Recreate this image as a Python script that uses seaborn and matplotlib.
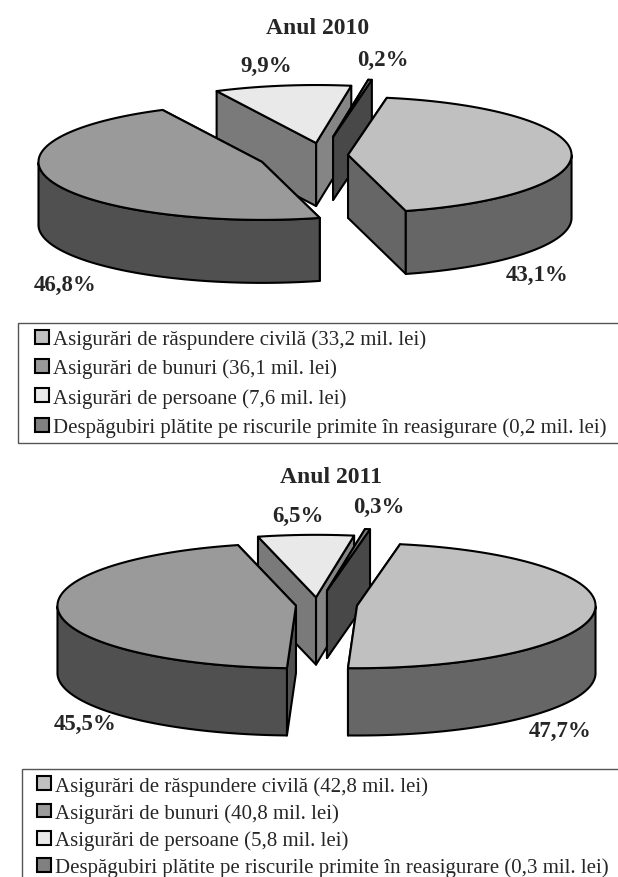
import numpy as np
import matplotlib
matplotlib.use("Agg")
import matplotlib.pyplot as plt
import seaborn as sns
from matplotlib.legend_handler import HandlerPatch
from matplotlib.patches import Patch, Rectangle

# categorii si valori (mil. lei)
categorii = [
    "Asigurări de răspundere civilă",
    "Asigurări de bunuri",
    "Asigurări de persoane",
    "Despăgubiri plătite pe riscurile primite în reasigurare",
]
lei_2010 = [33.2, 36.1, 7.6, 0.2]
lei_2011 = [42.8, 40.8, 5.8, 0.3]
procente_2010 = ["43,1%", "46,8%", "9,9%", "0,2%"]
procente_2011 = ["47,7%", "45,5%", "6,5%", "0,3%"]

W, H = 618, 878

sns.set_theme(style="white")
plt.rcParams["font.family"] = ["Liberation Serif", "DejaVu Serif"]

top_cols = sns.color_palette(["#c0c0c0", "#9a9a9a", "#e9e9e9", "#808080"])
start_cols = ["#666666", "#505050", "#7a7a7a", "#484848"]
end_cols = ["#666666", "#505050", "#858585", "#484848"]
wall_cols = ["#666666", "#505050", "#7a7a7a", "#484848"]

fig = plt.figure(figsize=(W / 100, H / 100), dpi=100, facecolor="white")


def pie_axes(cx, cy, rx, ry):
    # axa pe toata figura, 1 unitate = raza elipsei pe fiecare directie
    ax = fig.add_axes([0, 0, 1, 1], facecolor="none")
    ax.set_xlim(-cx / rx, (W - cx) / rx)
    ax.set_ylim((cy - H) / ry, cy / ry)
    ax.axis("off")
    return ax


def draw_slice(ax, ox, oy, t1, t2, depth, top, c_start, c_end, c_wall):
    style = dict(edgecolor="black", linewidth=1.5, joinstyle="round")
    # fetele de taietura, cea din spate prima
    faces = [(t1, c_start), (t2, c_end)]
    faces.sort(key=lambda f: -np.sin(np.radians(f[0])))
    for t, col in faces:
        px = ox + np.cos(np.radians(t))
        py = oy + np.sin(np.radians(t))
        ax.fill([ox, px, px, ox], [oy, py, py - depth, oy - depth], facecolor=col, **style)
    # peretele exterior, doar partea din fata
    t = np.linspace(t1, t2, 200)
    t = t[np.sin(np.radians(t)) <= 0]
    if len(t) > 1:
        xs = ox + np.cos(np.radians(t))
        ys = oy + np.sin(np.radians(t))
        ax.fill(np.r_[xs, xs[::-1]], np.r_[ys, ys[::-1] - depth], facecolor=c_wall, **style)
    # fata de sus
    t = np.linspace(t1, t2, 200)
    xs = np.r_[ox, ox + np.cos(np.radians(t))]
    ys = np.r_[oy, oy + np.sin(np.radians(t))]
    ax.fill(xs, ys, facecolor=top, **style)


def draw_pie(ax, values, start, offsets, depth):
    values = np.array(values)
    angles = start - np.r_[0, np.cumsum(values / values.sum() * 360)]
    for i in [2, 3, 0, 1]:
        draw_slice(ax, offsets[i][0], offsets[i][1], angles[i], angles[i + 1], depth,
                   top_cols[i], start_cols[i], end_cols[i], wall_cols[i])


def put_text(txt, x, y, size):
    fig.text(x / W, 1 - y / H, txt, fontsize=size, fontweight="bold", ha="center", va="center")


def swatch(legend, orig_handle, xdescent, ydescent, width, height, fontsize):
    # patrat mic lipit de text, nu pe toata latimea handle-ului
    return Rectangle((width - xdescent - 10, (height - 10) / 2 - ydescent), 10, 10)


def draw_legend(ax, values, left, top, height, spacing, pad, hlen):
    handles = [
        Patch(facecolor=top_cols[i], edgecolor="black", linewidth=1.5,
              label=f"{categorii[i]} ({str(values[i]).replace('.', ',')} mil. lei)")
        for i in range(4)
    ]
    leg = ax.legend(
        handles=handles, loc="upper left", mode="expand", ncols=1,
        bbox_to_anchor=(left / W, 1 - (top + height) / H, (W + 40 - left) / W, height / H),
        bbox_transform=fig.transFigure, borderaxespad=0, fontsize=15,
        frameon=True, fancybox=False, edgecolor="#555555", framealpha=1,
        handlelength=hlen, handletextpad=0.18, labelspacing=spacing, borderpad=pad,
        handler_map={Patch: HandlerPatch(patch_func=swatch)},
    )
    leg.get_frame().set_linewidth(1.0)
    return leg


# Anul 2010
ax1 = pie_axes(304, 156.5, 223.5, 58)
draw_pie(ax1, lei_2010, 80,
         [(0.197, 0.01), (-0.188, -0.11), (0.054, 0.215), (0.13, 0.32)], 63 / 58)
put_text("Anul 2010", 318, 28, 17)
for txt, x, y in zip(procente_2010, [537, 65, 266, 383], [275, 285, 66, 60]):
    put_text(txt, x, y, 16.5)
draw_legend(ax1, lei_2010, 18, 324, 118, 0.46, 0.30, 1.20)

# Anul 2011
ax2 = pie_axes(326.5, 606.7, 238.5, 62.5)
draw_pie(ax2, lei_2011, 79.6,
         [(0.128, 0.0), (-0.128, 0.0), (-0.044, 0.134), (0.002, 0.24)], 67.3 / 62.5)
put_text("Anul 2011", 331, 478, 17)
for txt, x, y in zip(procente_2011, [560, 85, 298, 379], [731, 724, 516, 507]):
    put_text(txt, x, y, 16.5)
draw_legend(ax2, lei_2011, 22, 770, 118, 0.36, 0.33, 1.06)

sns.despine(fig=fig, left=True, bottom=True)
fig.savefig("out.png", dpi=100)
